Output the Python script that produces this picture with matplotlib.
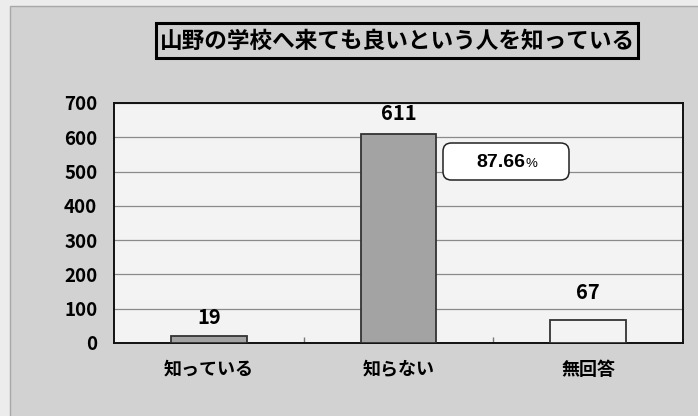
import matplotlib
matplotlib.use("Agg")
import matplotlib.pyplot as plt
from matplotlib.patches import Rectangle, FancyBboxPatch

plt.rcParams['font.family'] = ['Liberation Sans Narrow', 'Noto Sans CJK JP', 'DejaVu Sans']

# Survey data
title = "山野の学校へ来ても良いという人を知っている"
categories = ["知っている", "知らない", "無回答"]
counts = [19, 611, 67]
bar_colors = ["#a3a3a3", "#a3a3a3", "#f3f3f3"]
share_text = "87.66"
y_ticks = [0, 100, 200, 300, 400, 500, 600, 700]

W, H = 698, 416
fig = plt.figure(figsize=(W / 100, H / 100), dpi=100)
fig.patch.set_facecolor("#ececec")

def fx(px):
    return px / W

def fy(py):
    return 1 - py / H

# outer chart panel
panel = Rectangle((fx(10), fy(420)), fx(700) - fx(10), fy(6) - fy(420),
                  transform=fig.transFigure, facecolor="#d2d2d2",
                  edgecolor="#a8a8a8", linewidth=1.0, zorder=-5)
fig.patches.append(panel)

# title box
tb = Rectangle((fx(156), fy(58)), fx(638) - fx(156), fy(23) - fy(58),
               transform=fig.transFigure, facecolor="#d0d0d0",
               edgecolor="black", linewidth=2.2, zorder=-4)
fig.patches.append(tb)
fig.text(fx(397), fy(41), title, ha="center", va="center",
         fontsize=16.3, fontweight="bold",
         family=['Noto Sans CJK JP', 'DejaVu Sans'], zorder=2)

ax = fig.add_axes([fx(114), fy(343), fx(683) - fx(114), fy(103) - fy(343)])
ax.set_zorder(1)
ax.set_facecolor("#f3f3f3")

x = list(range(len(categories)))
ax.bar(x, counts, width=0.4, color=bar_colors, edgecolor="#333333",
       linewidth=1.3, zorder=3)

ax.set_xlim(-0.5, len(categories) - 0.5)
ax.set_ylim(0, 700)
ax.set_yticks(y_ticks)
ax.set_yticklabels([str(v) for v in y_ticks], fontsize=13.5, fontweight="bold")
ax.yaxis.grid(True, color="#8a8a8a", linewidth=0.9, zorder=1)
ax.set_axisbelow(True)
ax.tick_params(axis="y", length=0, pad=12)

ax.set_xticks(x)
ax.set_xticklabels(categories, fontsize=13, fontweight="bold",
                   family=['Noto Sans CJK JP', 'DejaVu Sans'])
ax.tick_params(axis="x", which="major", length=0, pad=12)
ax.set_xticks([i + 0.5 for i in x[:-1]], minor=True)
ax.tick_params(axis="x", which="minor", direction="in", length=4,
               color="#777777", width=1)

for s in ax.spines.values():
    s.set_color("#111111")
    s.set_linewidth(1.4)

# value labels above bars
label_gaps = [6, 7, 12]
for xi, v, g in zip(x, counts, label_gaps):
    ax.annotate(str(v), (xi, v), xytext=(0, g), textcoords="offset points",
                ha="center", va="bottom", fontsize=14.5, fontweight="bold")

# share callout
callout = FancyBboxPatch((fx(443), fy(180)), fx(569) - fx(443), fy(143) - fy(180),
                         boxstyle="round,pad=0,rounding_size=0.012",
                         transform=fig.transFigure, facecolor="white",
                         edgecolor="#222222", linewidth=1.1, zorder=5,
                         mutation_aspect=W / H)
fig.patches.append(callout)
fig.text(fx(525), fy(167), share_text, ha="right", va="baseline",
         fontsize=14, fontweight="bold", family=['Liberation Sans'], zorder=6)
fig.text(fx(526), fy(167), "%", ha="left", va="baseline",
         fontsize=9.5, family=['Liberation Sans Narrow', 'Liberation Sans'], zorder=6)

fig.savefig("out.png", dpi=100)
